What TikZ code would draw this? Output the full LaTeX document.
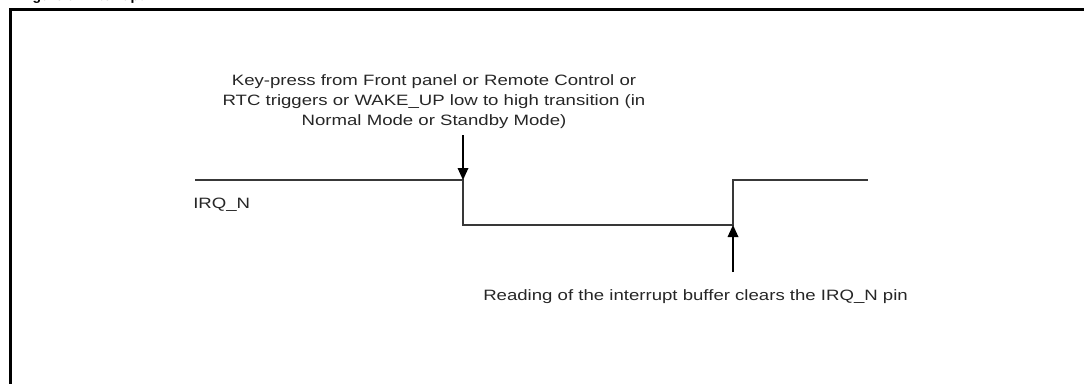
\documentclass[tikz,border=0pt]{standalone}
\usepackage{fontspec}
\setmainfont{Liberation Sans}
\newfontfamily\lbl[FakeStretch=1.24]{Liberation Sans}
\usetikzlibrary{arrows.meta}
\begin{document}
\begin{tikzpicture}[x=0.75pt,y=-0.75pt,
  sig/.style={draw=black!78,line width=1.1pt},
  frame/.style={draw=black,line width=1.6pt},
  arr/.style={draw=black,line width=0.9pt,-{Triangle[length=9pt,width=8pt]}},
  lab/.style={inner sep=0pt,font=\lbl\fontsize{11.25}{15}\selectfont,text=black!85}]
\useasboundingbox (0,0) rectangle (1084,383);
% clipped title (only its lowest part shows, as in the reference)
\begin{scope}
\clip (0,0) rectangle (1084,6);
\node[inner sep=0pt,anchor=base west,font=\bfseries\fontsize{10.5}{12}\selectfont] (title) at (20,0.5) {Figure 5.\ \ Interrupt};
\end{scope}
% frame
\draw[frame] (10.5,390) -- (10.5,9.5) -- (1090,9.5);
% signal coordinates
\coordinate (s0) at (195,180);
\coordinate (fallH) at (463,180);
\coordinate (fallL) at (463,225);
\coordinate (riseL) at (733,225);
\coordinate (riseH) at (733,180);
\coordinate (s1) at (868,180);
\draw[sig] (s0) -- (fallH) -- (fallL) -- (riseL) -- (riseH) -- (s1);
% arrows
\coordinate (a0) at (463,135);
\coordinate (b0) at (733,272);
\draw[arr] (a0) -- (fallH);
\draw[arr] (b0) -- (riseL);
% labels
\node[lab,anchor=north,align=center] (top) at (434,74.5) {Key-press from Front panel or Remote Control or\\RTC triggers or WAKE\_UP low to high transition (in\\Normal Mode or Standby Mode)};
\node[lab,anchor=base west] (irq) at (193,208) {IRQ\_N};
\node[lab,anchor=base west] (bot) at (483,300) {Reading of the interrupt buffer clears the IRQ\_N pin};
\end{tikzpicture}
\end{document}
